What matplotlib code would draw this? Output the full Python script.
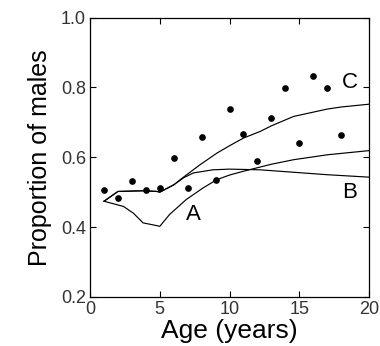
import matplotlib
matplotlib.use('Agg')
import matplotlib.pyplot as plt

plt.rcParams['font.family'] = ['Liberation Sans', 'DejaVu Sans']

# observed proportion of males by age
obs_age = [1, 2, 3, 4, 5, 6, 7, 8, 9, 10, 11, 12, 13, 14, 15, 16, 17, 18]
obs_prop = [0.505, 0.483, 0.531, 0.506, 0.511, 0.598, 0.511, 0.658, 0.535,
            0.737, 0.666, 0.590, 0.713, 0.799, 0.642, 0.832, 0.799, 0.664]

# model curves
a_age = [1, 2.4, 3.1, 3.8, 4.8, 5, 5.7, 6.9, 8.1, 9.1, 10, 11, 12, 13, 14.6, 17, 20]
a_prop = [0.474, 0.459, 0.440, 0.412, 0.404, 0.402, 0.436, 0.479, 0.512, 0.536,
          0.549, 0.560, 0.570, 0.580, 0.593, 0.607, 0.619]

b_age = [1, 2, 3.8, 4.8, 5, 6, 6.7, 7.4, 8.8, 10, 12.2, 14.6, 17, 20]
b_prop = [0.474, 0.502, 0.504, 0.502, 0.500, 0.521, 0.541, 0.555, 0.564, 0.566,
          0.564, 0.557, 0.550, 0.543]

c_age = [1, 2, 3.8, 4.8, 5, 6, 6.7, 7.9, 9.1, 10, 11, 12.2, 13, 14.6, 17, 18, 20]
c_prop = [0.474, 0.502, 0.504, 0.502, 0.500, 0.521, 0.543, 0.579, 0.612, 0.633,
          0.655, 0.674, 0.690, 0.717, 0.738, 0.744, 0.752]

fig = plt.figure(figsize=(3.8, 3.46), dpi=100)
ax = fig.add_axes([0.237, 0.142, 0.734, 0.807])

ax.plot(a_age, a_prop, color='black', lw=0.85)
ax.plot(b_age, b_prop, color='black', lw=0.85)
ax.plot(c_age, c_prop, color='black', lw=0.85)
ax.plot(obs_age, obs_prop, 'o', color='black', ms=3.8)

ax.text(7.4, 0.436, 'A', fontsize=16, ha='center', va='center')
ax.text(18.6, 0.498, 'B', fontsize=16, ha='center', va='center')
ax.text(18.6, 0.815, 'C', fontsize=16, ha='center', va='center')

ax.set_xlim(0, 20)
ax.set_ylim(0.2, 1.0)
ax.set_xticks([0, 5, 10, 15, 20])
ax.set_yticks([0.2, 0.4, 0.6, 0.8, 1.0])
ax.tick_params(direction='in', top=True, right=True, length=4.5, width=0.8,
               labelsize=13, labelcolor='#333333', pad=3)
for s in ax.spines.values():
    s.set_linewidth(0.9)

ax.set_xlabel('Age (years)', fontsize=19, labelpad=1)
ax.set_ylabel('Proportion of males', fontsize=18, labelpad=6)

fig.savefig('out.png', dpi=100)
